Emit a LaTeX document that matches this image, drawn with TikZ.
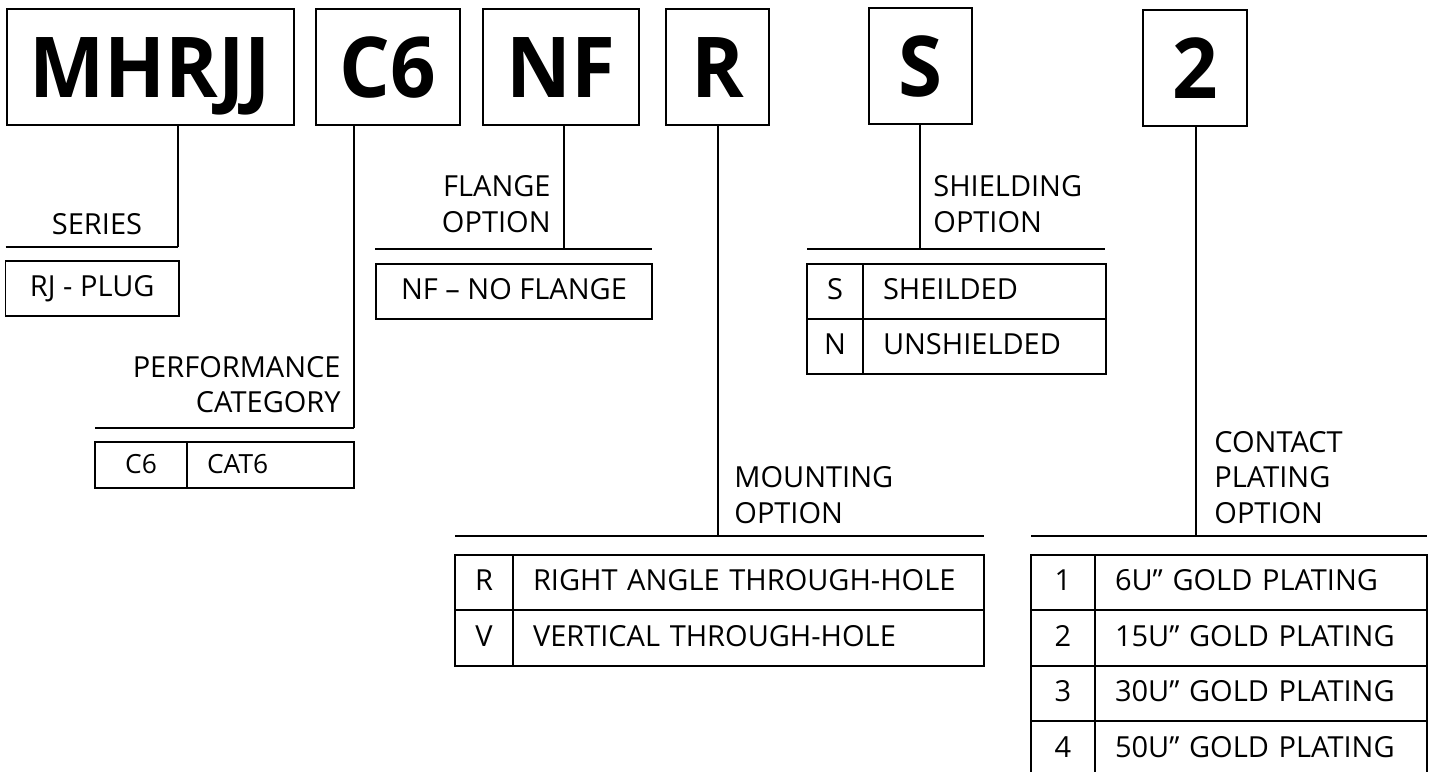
\documentclass[tikz,border=0pt]{standalone}
\usepackage{fontspec}
\setmainfont{Open Sans}
\newfontfamily\codefont{Open Sans}[FakeStretch=0.95]
\usetikzlibrary{positioning,calc}

\tikzstyle{codebox}=[draw,line width=1pt,inner sep=0pt,minimum height=58pt,
  text height=30pt,text depth=0pt,font=\codefont\fontsize{42}{42}\selectfont\bfseries]
\tikzstyle{stem}=[line width=0.8pt]
\tikzstyle{rule}=[line width=1.1pt]
\tikzstyle{heading}=[inner sep=0pt,font=\fontsize{14.5}{17.75}\selectfont]
\tikzstyle{keycell}=[draw,line width=0.9pt,outer sep=0pt,inner sep=0pt,
  minimum height=27.5pt,text height=10.35pt,text depth=2pt,font=\fontsize{14.5}{17.75}\selectfont]
\tikzstyle{desccell}=[keycell,align=left,inner xsep=10pt,text width=#1]

\begin{document}
\begin{tikzpicture}[x=0.5pt,y=-0.5pt]
  \useasboundingbox (0,0) rectangle (1434,771);

  % PART NUMBER
  \node[codebox,minimum width=143.5pt] (mhrjj) at (150.5,67) {MHRJJ};
  \node[codebox,minimum width=72pt]    (cat)   at (388,67)   {C6};
  \node[codebox,minimum width=78pt]    (flg)   at (561,67)   {NF};
  \node[codebox,minimum width=51.5pt]  (mnt)   at (717.5,67) {R};
  \node[codebox,minimum width=51.5pt]  (shd)   at (920.5,66) {S};
  \node[codebox,minimum width=52pt]    (plt)   at (1195,68)  {2};

  % SERIES
  \coordinate (serj) at (178,247);
  \draw[rule] (5.5,247) -- (serj);
  \draw[stem] (mhrjj.south -| serj) -- (serj);
  \node[heading,anchor=base] (serlbl) at (97,234) {SERIES};
  \node[keycell,minimum width=86.75pt] (serrj) at (92.25,288.5) {RJ - PLUG};

  % PERFORMANCE CATEGORY
  \coordinate (catj) at (354,428);
  \draw[rule] (95,428) -- (catj);
  \draw[stem] (cat.south -| catj) -- (catj);
  \node[heading,align=right,anchor=base east] (catlbl) at (341,412.5) {PERFORMANCE\\CATEGORY};
  \node[keycell,minimum width=46pt,minimum height=23pt,text height=9.4pt,text depth=1.5pt,
    font=\fontsize{13.2}{15}\selectfont] (catk) at (141,465.25) {C6};
  \node[desccell=63.5pt,minimum height=23pt,text height=9.4pt,text depth=1.5pt,
    font=\fontsize{13.2}{15}\selectfont,right=0pt of catk] (catd) {CAT6};

  % FLANGE OPTION
  \coordinate (flgj) at (564,249);
  \draw[rule] (375,249) -- (652,249);
  \draw[stem] (flg.south -| flgj) -- (flgj);
  \node[heading,align=right,anchor=base east] (flglbl) at (551,232) {FLANGE\\OPTION};
  \node[keycell,minimum width=138pt] (flgnf) at (514,291.5) {NF – NO FLANGE};

  % MOUNTING OPTION
  \coordinate (mntj) at (718,536);
  \draw[rule] (455,536) -- (984,536);
  \draw[stem] (mnt.south -| mntj) -- (mntj);
  \node[heading,align=left,anchor=base west] (mntlbl) at (734,523) {MOUNTING\\OPTION};
  \node[keycell,minimum width=29pt,minimum height=27.75pt] (mntk1) at (484,582.5) {R};
  \node[desccell=215.5pt,minimum height=27.75pt,right=0pt of mntk1] (mntd1) {RIGHT ANGLE THROUGH-HOLE};
  \node[keycell,minimum width=29pt,minimum height=27.75pt,below=0pt of mntk1] (mntk2) {V};
  \node[desccell=215.5pt,minimum height=27.75pt,right=0pt of mntk2] (mntd2) {VERTICAL THROUGH-HOLE};

  % SHIELDING OPTION
  \coordinate (shdj) at (920,249);
  \draw[rule] (807,249) -- (1105,249);
  \draw[stem] (shd.south -| shdj) -- (shdj);
  \node[heading,align=left,anchor=base west] (shdlbl) at (933,232) {SHIELDING\\OPTION};
  \node[keycell,minimum width=28pt] (shdk1) at (835,291.5) {S};
  \node[desccell=101.5pt,right=0pt of shdk1] (shdd1) {SHEILDED};
  \node[keycell,minimum width=28pt,below=0pt of shdk1] (shdk2) {N};
  \node[desccell=101.5pt,right=0pt of shdk2] (shdd2) {UNSHIELDED};

  % CONTACT PLATING OPTION
  \coordinate (pltj) at (1196,536);
  \draw[rule] (1031,536) -- (1427,536);
  \draw[stem] (plt.south -| pltj) -- (pltj);
  \node[heading,align=left,anchor=base west] (pltlbl) at (1214,523) {CONTACT\\PLATING\\OPTION};
  \node[keycell,minimum width=32pt,minimum height=27.75pt] (pltk1) at (1063,582.5) {1};
  \node[desccell=146pt,minimum height=27.75pt,right=0pt of pltk1] (pltd1) {6U” GOLD PLATING};
  \foreach \n/\txt in {2/15U” GOLD PLATING,3/30U” GOLD PLATING,4/50U” GOLD PLATING}{
    \pgfmathtruncatemacro\prev{\n-1}
    \node[keycell,minimum width=32pt,minimum height=27.75pt,below=0pt of pltk\prev] (pltk\n) {\n};
    \node[desccell=146pt,minimum height=27.75pt,right=0pt of pltk\n] (pltd\n) {\txt};
  }
\end{tikzpicture}
\end{document}
